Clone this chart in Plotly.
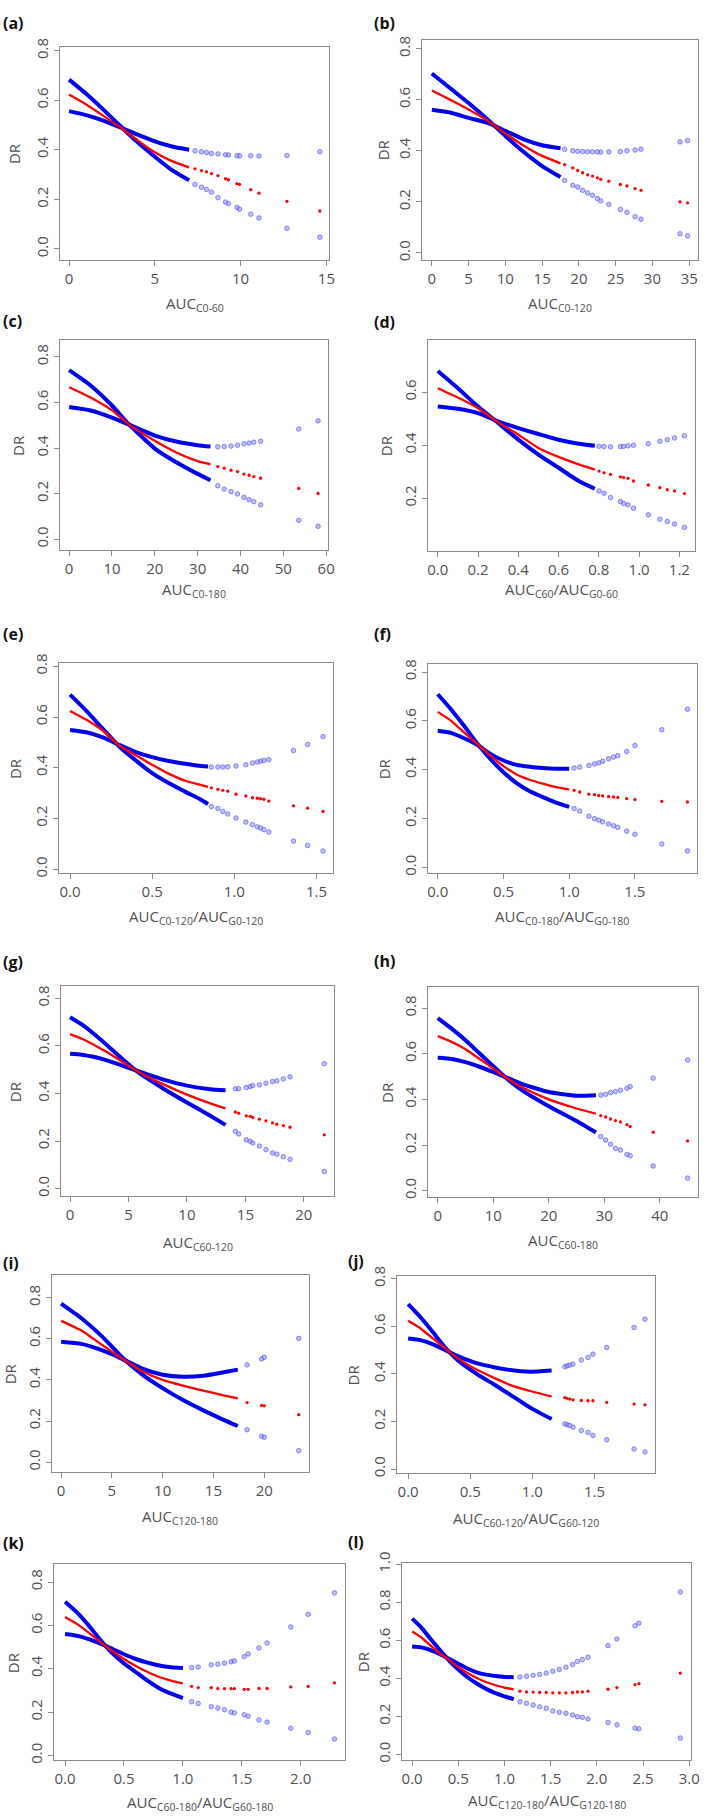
import plotly.graph_objects as go

# ---------------- data ----------------
# band1 = confidence curve starting high, band2 = curve starting low, fit = red estimate
a_x = [0, 1, 2, 3, 4, 5, 6, 7, 7.34, 7.72, 8.01, 8.30, 8.68, 9.12, 9.29, 9.79, 9.94, 10.59, 11.07, 12.70, 14.62]
a_band1 = [0.683, 0.626, 0.562, 0.495, 0.43, 0.372, 0.318, 0.277, 0.26, 0.249, 0.24, 0.229, 0.207, 0.189, 0.183, 0.167, 0.16, 0.14, 0.125, 0.083, 0.047]
a_fit = [0.623, 0.583, 0.537, 0.49, 0.438, 0.39, 0.354, 0.329, 0.323, 0.316, 0.311, 0.304, 0.296, 0.283, 0.279, 0.263, 0.26, 0.239, 0.225, 0.192, 0.153]
a_band2 = [0.556, 0.54, 0.518, 0.49, 0.461, 0.434, 0.413, 0.4, 0.396, 0.392, 0.389, 0.385, 0.383, 0.38, 0.379, 0.376, 0.376, 0.376, 0.375, 0.377, 0.392]
a_dense = 8

b_x = [0, 2.5, 5, 7.5, 10, 12.5, 15, 17.5, 18.06, 19.17, 19.84, 20.51, 21.18, 21.85, 22.51, 22.96, 24.07, 25.64, 26.53, 27.64, 28.44, 33.75, 34.77]
b_band1 = [0.703, 0.645, 0.587, 0.525, 0.458, 0.395, 0.34, 0.297, 0.284, 0.265, 0.258, 0.245, 0.235, 0.226, 0.213, 0.204, 0.19, 0.17, 0.159, 0.142, 0.132, 0.075, 0.067]
b_fit = [0.636, 0.6, 0.562, 0.52, 0.468, 0.42, 0.38, 0.351, 0.346, 0.333, 0.323, 0.314, 0.306, 0.301, 0.294, 0.288, 0.281, 0.268, 0.262, 0.252, 0.245, 0.2, 0.196]
b_band2 = [0.561, 0.55, 0.529, 0.51, 0.478, 0.445, 0.422, 0.41, 0.406, 0.4, 0.398, 0.397, 0.396, 0.396, 0.396, 0.395, 0.396, 0.397, 0.4, 0.403, 0.406, 0.435, 0.44]
b_dense = 8

c_x = [0, 5, 10, 14, 20, 25, 30, 33, 34.7, 36.2, 37.8, 39.3, 40.8, 42.0, 43.1, 44.7, 53.6, 58.1]
c_band1 = [0.742, 0.675, 0.587, 0.503, 0.398, 0.338, 0.287, 0.259, 0.235, 0.22, 0.209, 0.199, 0.184, 0.174, 0.165, 0.151, 0.083, 0.057]
c_fit = [0.667, 0.622, 0.566, 0.503, 0.432, 0.381, 0.343, 0.329, 0.319, 0.312, 0.303, 0.297, 0.286, 0.281, 0.275, 0.268, 0.223, 0.201]
c_band2 = [0.58, 0.565, 0.534, 0.503, 0.455, 0.429, 0.413, 0.407, 0.406, 0.407, 0.409, 0.413, 0.419, 0.422, 0.426, 0.43, 0.484, 0.52]
c_dense = 8

d_x = [0, 0.1, 0.2, 0.3, 0.4, 0.5, 0.6, 0.7, 0.78, 0.801, 0.826, 0.858, 0.907, 0.923, 0.945, 0.972, 1.046, 1.103, 1.14, 1.176, 1.225]
d_band1 = [0.68, 0.615, 0.546, 0.484, 0.421, 0.365, 0.315, 0.265, 0.236, 0.2275, 0.219, 0.2025, 0.1875, 0.18, 0.175, 0.1625, 0.1375, 0.121, 0.1125, 0.1025, 0.09]
d_fit = [0.615, 0.58, 0.54, 0.487, 0.44, 0.39, 0.356, 0.3275, 0.308, 0.3025, 0.296, 0.29, 0.281, 0.278, 0.275, 0.265, 0.25, 0.24, 0.2325, 0.2275, 0.2175]
d_band2 = [0.546, 0.5375, 0.521, 0.49, 0.465, 0.4425, 0.421, 0.406, 0.398, 0.396, 0.395, 0.394, 0.395, 0.396, 0.398, 0.4, 0.406, 0.415, 0.421, 0.4275, 0.436]
d_dense = 9

e_x = [0, 0.1, 0.2, 0.3, 0.4, 0.5, 0.6, 0.7, 0.8, 0.84, 0.86, 0.9, 0.93, 0.96, 1.01, 1.07, 1.11, 1.14, 1.16, 1.18, 1.21, 1.36, 1.446, 1.54]
e_band1 = [0.688, 0.624, 0.553, 0.484, 0.429, 0.379, 0.34, 0.306, 0.273, 0.257, 0.247, 0.24, 0.228, 0.218, 0.202, 0.186, 0.176, 0.167, 0.163, 0.156, 0.147, 0.111, 0.094, 0.072]
e_fit = [0.624, 0.589, 0.546, 0.488, 0.449, 0.412, 0.377, 0.349, 0.332, 0.325, 0.321, 0.315, 0.311, 0.308, 0.296, 0.289, 0.282, 0.28, 0.278, 0.276, 0.269, 0.25, 0.241, 0.228]
e_band2 = [0.549, 0.54, 0.52, 0.49, 0.462, 0.442, 0.427, 0.416, 0.407, 0.405, 0.403, 0.403, 0.403, 0.404, 0.407, 0.412, 0.419, 0.423, 0.426, 0.429, 0.432, 0.468, 0.492, 0.523]
e_dense = 10

f_x = [0, 0.1, 0.2, 0.3, 0.4, 0.5, 0.6, 0.7, 0.8, 0.9, 1.0, 1.0375, 1.08, 1.15, 1.1925, 1.225, 1.255, 1.3, 1.3375, 1.37, 1.4375, 1.5, 1.705, 1.9]
f_band1 = [0.709, 0.648, 0.58, 0.508, 0.444, 0.39, 0.345, 0.312, 0.288, 0.266, 0.248, 0.241, 0.231, 0.21, 0.2, 0.194, 0.187, 0.178, 0.171, 0.164, 0.149, 0.136, 0.096, 0.068]
f_fit = [0.637, 0.601, 0.553, 0.506, 0.458, 0.415, 0.381, 0.359, 0.343, 0.329, 0.32, 0.316, 0.309, 0.3, 0.298, 0.295, 0.293, 0.29, 0.289, 0.287, 0.282, 0.278, 0.271, 0.268]
f_band2 = [0.56, 0.551, 0.529, 0.502, 0.465, 0.438, 0.42, 0.412, 0.407, 0.404, 0.404, 0.407, 0.411, 0.418, 0.424, 0.428, 0.435, 0.445, 0.452, 0.458, 0.475, 0.499, 0.564, 0.648]
f_dense = 11

g_x = [0, 1, 2, 3, 4, 5, 6, 8, 10, 12, 13.3, 14.14, 14.42, 15.07, 15.41, 15.63, 16.2, 16.76, 17.32, 17.69, 18.25, 18.82, 21.75]
g_band1 = [0.72, 0.69, 0.652, 0.61, 0.566, 0.523, 0.483, 0.42, 0.362, 0.306, 0.268, 0.241, 0.23, 0.205, 0.199, 0.192, 0.179, 0.164, 0.15, 0.145, 0.134, 0.123, 0.072]
g_fit = [0.649, 0.63, 0.606, 0.578, 0.548, 0.517, 0.487, 0.438, 0.395, 0.358, 0.337, 0.322, 0.317, 0.306, 0.304, 0.299, 0.292, 0.285, 0.276, 0.271, 0.265, 0.258, 0.226]
g_band2 = [0.567, 0.563, 0.554, 0.541, 0.525, 0.508, 0.491, 0.458, 0.433, 0.418, 0.413, 0.42, 0.42, 0.425, 0.429, 0.433, 0.436, 0.443, 0.45, 0.453, 0.461, 0.47, 0.525]
g_dense = 11

h_x = [0, 2.5, 5, 7.5, 10, 12, 15, 20, 25, 28.5, 29.37, 30.25, 31.14, 32.02, 32.91, 34.09, 34.68, 38.82, 45.02]
h_band1 = [0.756, 0.71, 0.659, 0.602, 0.545, 0.5, 0.443, 0.37, 0.305, 0.255, 0.237, 0.222, 0.203, 0.185, 0.178, 0.159, 0.153, 0.108, 0.055]
h_fit = [0.677, 0.652, 0.62, 0.578, 0.535, 0.5, 0.455, 0.4, 0.36, 0.337, 0.329, 0.323, 0.314, 0.307, 0.301, 0.289, 0.281, 0.256, 0.218]
h_band2 = [0.582, 0.577, 0.563, 0.543, 0.52, 0.5, 0.469, 0.432, 0.416, 0.418, 0.419, 0.422, 0.43, 0.434, 0.44, 0.449, 0.456, 0.493, 0.573]
h_dense = 10

i_x = [0, 2, 4, 5, 6, 8, 10, 12, 14, 16, 17.4, 18.31, 19.74, 20.0, 23.4]
i_band1 = [0.771, 0.7, 0.613, 0.562, 0.51, 0.426, 0.36, 0.302, 0.252, 0.206, 0.176, 0.158, 0.126, 0.121, 0.056]
i_fit = [0.687, 0.64, 0.571, 0.537, 0.504, 0.442, 0.4, 0.372, 0.348, 0.325, 0.31, 0.29, 0.276, 0.274, 0.231]
i_band2 = [0.585, 0.575, 0.545, 0.525, 0.502, 0.455, 0.425, 0.415, 0.42, 0.437, 0.45, 0.473, 0.502, 0.51, 0.602]
i_dense = 11

j_x = [0, 0.1, 0.2, 0.3, 0.4, 0.557, 0.7, 0.823, 0.982, 1.155, 1.261, 1.28, 1.301, 1.327, 1.394, 1.447, 1.487, 1.598, 1.818, 1.906]
j_band1 = [0.693, 0.638, 0.575, 0.51, 0.457, 0.398, 0.353, 0.312, 0.258, 0.21, 0.19, 0.186, 0.183, 0.176, 0.162, 0.154, 0.141, 0.123, 0.084, 0.072]
j_fit = [0.623, 0.591, 0.549, 0.506, 0.465, 0.416, 0.381, 0.353, 0.328, 0.305, 0.3, 0.297, 0.294, 0.291, 0.288, 0.287, 0.287, 0.28, 0.273, 0.27]
j_band2 = [0.549, 0.542, 0.524, 0.5, 0.475, 0.444, 0.427, 0.416, 0.409, 0.414, 0.43, 0.434, 0.437, 0.441, 0.458, 0.469, 0.483, 0.511, 0.595, 0.63]
j_dense = 10

k_x = [0, 0.1, 0.2, 0.3, 0.4, 0.5, 0.6, 0.7, 0.8, 0.9, 1.0, 1.074, 1.13, 1.241, 1.297, 1.353, 1.409, 1.437, 1.52, 1.554, 1.646, 1.715, 1.916, 2.064, 2.287]
k_band1 = [0.709, 0.66, 0.6, 0.532, 0.472, 0.425, 0.385, 0.345, 0.31, 0.285, 0.265, 0.248, 0.24, 0.225, 0.219, 0.211, 0.2, 0.196, 0.188, 0.181, 0.164, 0.154, 0.126, 0.106, 0.076]
k_fit = [0.639, 0.607, 0.567, 0.523, 0.482, 0.445, 0.413, 0.385, 0.362, 0.345, 0.332, 0.319, 0.313, 0.313, 0.308, 0.308, 0.308, 0.308, 0.305, 0.305, 0.309, 0.309, 0.316, 0.319, 0.335]
k_band2 = [0.56, 0.552, 0.537, 0.516, 0.492, 0.467, 0.445, 0.428, 0.415, 0.407, 0.403, 0.405, 0.408, 0.418, 0.421, 0.426, 0.432, 0.436, 0.456, 0.468, 0.496, 0.519, 0.593, 0.651, 0.75]
k_dense = 11

l_x = [0, 0.1, 0.2, 0.3, 0.4, 0.5, 0.6, 0.7, 0.8, 0.9, 1.0, 1.1, 1.167, 1.238, 1.31, 1.381, 1.452, 1.523, 1.594, 1.665, 1.737, 1.79, 1.843, 1.904, 2.121, 2.217, 2.413, 2.456, 2.904]
l_band1 = [0.714, 0.667, 0.607, 0.549, 0.494, 0.447, 0.406, 0.373, 0.345, 0.323, 0.306, 0.291, 0.277, 0.269, 0.26, 0.251, 0.243, 0.229, 0.222, 0.217, 0.208, 0.199, 0.196, 0.187, 0.168, 0.156, 0.139, 0.135, 0.087]
l_fit = [0.646, 0.615, 0.572, 0.532, 0.497, 0.459, 0.428, 0.402, 0.381, 0.364, 0.352, 0.343, 0.333, 0.329, 0.328, 0.326, 0.326, 0.324, 0.324, 0.324, 0.326, 0.329, 0.329, 0.333, 0.343, 0.352, 0.367, 0.373, 0.428]
l_band2 = [0.568, 0.563, 0.548, 0.527, 0.503, 0.477, 0.452, 0.432, 0.42, 0.413, 0.408, 0.406, 0.407, 0.411, 0.416, 0.421, 0.428, 0.438, 0.447, 0.459, 0.473, 0.489, 0.499, 0.511, 0.572, 0.607, 0.676, 0.69, 0.854]
l_dense = 12

panel_labels = ["(a)", "(b)", "(c)", "(d)", "(e)", "(f)", "(g)", "(h)", "(i)", "(j)", "(k)", "(l)"]
x_titles = [
    "AUC<sub>C0-60</sub>",
    "AUC<sub>C0-120</sub>",
    "AUC<sub>C0-180</sub>",
    "AUC<sub>C60</sub>/AUC<sub>G0-60</sub>",
    "AUC<sub>C0-120</sub>/AUC<sub>G0-120</sub>",
    "AUC<sub>C0-180</sub>/AUC<sub>G0-180</sub>",
    "AUC<sub>C60-120</sub>",
    "AUC<sub>C60-180</sub>",
    "AUC<sub>C120-180</sub>",
    "AUC<sub>C60-120</sub>/AUC<sub>G60-120</sub>",
    "AUC<sub>C60-180</sub>/AUC<sub>G60-180</sub>",
    "AUC<sub>C120-180</sub>/AUC<sub>G120-180</sub>",
]
y_title = "DR"
x_ticks = [
    [0, 5, 10, 15],
    [0, 5, 10, 15, 20, 25, 30, 35],
    [0, 10, 20, 30, 40, 50, 60],
    [0.0, 0.2, 0.4, 0.6, 0.8, 1.0, 1.2],
    [0.0, 0.5, 1.0, 1.5],
    [0.0, 0.5, 1.0, 1.5],
    [0, 5, 10, 15, 20],
    [0, 10, 20, 30, 40],
    [0, 5, 10, 15, 20],
    [0.0, 0.5, 1.0, 1.5],
    [0.0, 0.5, 1.0, 1.5, 2.0],
    [0.0, 0.5, 1.0, 1.5, 2.0, 2.5, 3.0],
]
y_ticks_std = [0.0, 0.2, 0.4, 0.6, 0.8]
y_ticks_d = [0.2, 0.4, 0.6]
y_ticks_l = [0.0, 0.2, 0.4, 0.6, 0.8, 1.0]

series = [
    (a_x, a_band1, a_fit, a_band2, a_dense),
    (b_x, b_band1, b_fit, b_band2, b_dense),
    (c_x, c_band1, c_fit, c_band2, c_dense),
    (d_x, d_band1, d_fit, d_band2, d_dense),
    (e_x, e_band1, e_fit, e_band2, e_dense),
    (f_x, f_band1, f_fit, f_band2, f_dense),
    (g_x, g_band1, g_fit, g_band2, g_dense),
    (h_x, h_band1, h_fit, h_band2, h_dense),
    (i_x, i_band1, i_fit, i_band2, i_dense),
    (j_x, j_band1, j_fit, j_band2, j_dense),
    (k_x, k_band1, k_fit, k_band2, k_dense),
    (l_x, l_band1, l_fit, l_band2, l_dense),
]

# ---------------- layout geometry (pixels) ----------------
W, H = 709, 1820
geom = [
    dict(fr=(60, 333, 35, 250), xr=[-0.517, 15.17], yr=[-0.044, 0.816], lab=(0, 11), dr=13, ty=295, yt=y_ticks_std, fmt=False),
    dict(fr=(427, 707, 28, 250), xr=[-1.34, 36.2], yr=[-0.027, 0.835], lab=(376, 11), dr=387, ty=295, yt=y_ticks_std, fmt=False),
    dict(fr=(60, 332, 331, 543), xr=[-2.1, 60.5], yr=[-0.048, 0.874], lab=(0, 312), dr=17, ty=583, yt=y_ticks_std, fmt=False),
    dict(fr=(433, 704, 331, 544), xr=[-0.049, 1.278], yr=[0.0, 0.797], lab=(376, 313), dr=390, ty=583, yt=y_ticks_d, fmt=True),
    dict(fr=(59, 337, 657, 869), xr=[-0.066, 1.602], yr=[-0.016, 0.812], lab=(0, 628), dr=15, ty=913, yt=y_ticks_std, fmt=True),
    dict(fr=(433, 706, 658, 869), xr=[-0.075, 1.973], yr=[-0.024, 0.832], lab=(376, 628), dr=388, ty=913, yt=y_ticks_std, fmt=True),
    dict(fr=(61, 338, 983, 1195), xr=[-0.76, 22.6], yr=[-0.033, 0.85], lab=(0, 958), dr=15, ty=1242, yt=y_ticks_std, fmt=False),
    dict(fr=(433, 707, 984, 1196), xr=[-1.78, 46.9], yr=[-0.03, 0.891], lab=(376, 957), dr=392, ty=1240, yt=y_ticks_std, fmt=False),
    dict(fr=(52, 312, 1274, 1473), xr=[-0.87, 24.37], yr=[-0.048, 0.911], lab=(0, 1262), dr=10, ty=1518, yt=y_ticks_std, fmt=False),
    dict(fr=(402, 663, 1275, 1474), xr=[-0.087, 1.984], yr=[-0.017, 0.8125], lab=(350, 1260), dr=357, ty=1520, yt=y_ticks_std, fmt=True),
    dict(fr=(54, 349, 1566, 1764), xr=[-0.092, 2.377], yr=[-0.023, 0.882], lab=(0, 1545), dr=13, ty=1807, yt=y_ticks_std, fmt=True),
    dict(fr=(407, 700, 1565, 1763), xr=[-0.107, 3.021], yr=[-0.026, 1.005], lab=(350, 1544), dr=368, ty=1805, yt=y_ticks_l, fmt=True),
]

FONT = "Open Sans"
TXT = "#505050"
BLUE_LINE = "#0000ee"
BLUE_FILL = "rgba(130,130,255,0.5)"
BLUE_EDGE = "rgba(80,80,240,0.8)"
RED = "#ff0000"

fig = go.Figure()
annotations = []
layout_axes = {}

for n, ((xs, b1, fit, b2, nd), g) in enumerate(zip(series, geom), start=1):
    xa = "x" if n == 1 else f"x{n}"
    ya = "y" if n == 1 else f"y{n}"
    L, R, T, B = g["fr"]
    # dense parts as continuous lines
    for ys, col, wdt in ((b1, BLUE_LINE, 4.0), (b2, BLUE_LINE, 4.0), (fit, RED, 2.3)):
        fig.add_trace(go.Scatter(x=xs[:nd], y=ys[:nd], mode="lines", xaxis=xa, yaxis=ya,
                                 line=dict(color=col, width=wdt, shape="spline", smoothing=0.5),
                                 showlegend=False, hoverinfo="skip"))
    # sparse parts as points
    for ys in (b1, b2):
        fig.add_trace(go.Scatter(x=xs[nd:], y=ys[nd:], mode="markers", xaxis=xa, yaxis=ya,
                                 marker=dict(size=4.5, color=BLUE_FILL, line=dict(color=BLUE_EDGE, width=0.8)),
                                 showlegend=False, hoverinfo="skip"))
    fig.add_trace(go.Scatter(x=xs[nd:], y=fit[nd:], mode="markers", xaxis=xa, yaxis=ya,
                             marker=dict(size=3.3, color=RED),
                             showlegend=False, hoverinfo="skip"))

    xkey = "xaxis" if n == 1 else f"xaxis{n}"
    ykey = "yaxis" if n == 1 else f"yaxis{n}"
    common = dict(showgrid=False, zeroline=False, showline=True, mirror=True,
                  linecolor="#8a8a8a", linewidth=1, ticks="outside", ticklen=5,
                  tickcolor="#8a8a8a", tickwidth=1,
                  tickfont=dict(family=FONT, size=15, color=TXT), fixedrange=True)
    layout_axes[xkey] = dict(common, domain=[L / W, R / W], range=g["xr"], anchor=ya,
                             tickmode="array", tickvals=x_ticks[n - 1],
                             tickformat=".1f" if g["fmt"] else "d")
    layout_axes[ykey] = dict(common, domain=[1 - B / H, 1 - T / H], range=g["yr"], anchor=xa,
                             tickmode="array", tickvals=g["yt"], tickformat=".1f", tickangle=-90)

    annotations.append(dict(text=f"<b>{panel_labels[n - 1]}</b>", xref="paper", yref="paper",
                            x=g["lab"][0] / W, y=1 - g["lab"][1] / H, xanchor="left", yanchor="middle",
                            showarrow=False, font=dict(family=FONT, size=16, color="#111111")))
    annotations.append(dict(text=y_title, xref="paper", yref="paper",
                            x=g["dr"] / W, y=1 - (T + B) / 2 / H, xanchor="center", yanchor="middle",
                            textangle=-90, showarrow=False, font=dict(family=FONT, size=15, color=TXT)))
    annotations.append(dict(text=x_titles[n - 1], xref="paper", yref="paper",
                            x=(L + R) / 2 / W, y=1 - g["ty"] / H, xanchor="center", yanchor="middle",
                            showarrow=False, font=dict(family=FONT, size=15, color=TXT)))

fig.update_layout(width=W, height=H, autosize=False,
                  margin=dict(l=0, r=0, t=0, b=0),
                  paper_bgcolor="white", plot_bgcolor="white",
                  annotations=annotations, **layout_axes)

fig.write_html("out.html", config={"displayModeBar": False, "staticPlot": True},
               post_script="document.body.style.margin='0';document.body.style.padding='0';document.body.style.overflow='hidden';")
